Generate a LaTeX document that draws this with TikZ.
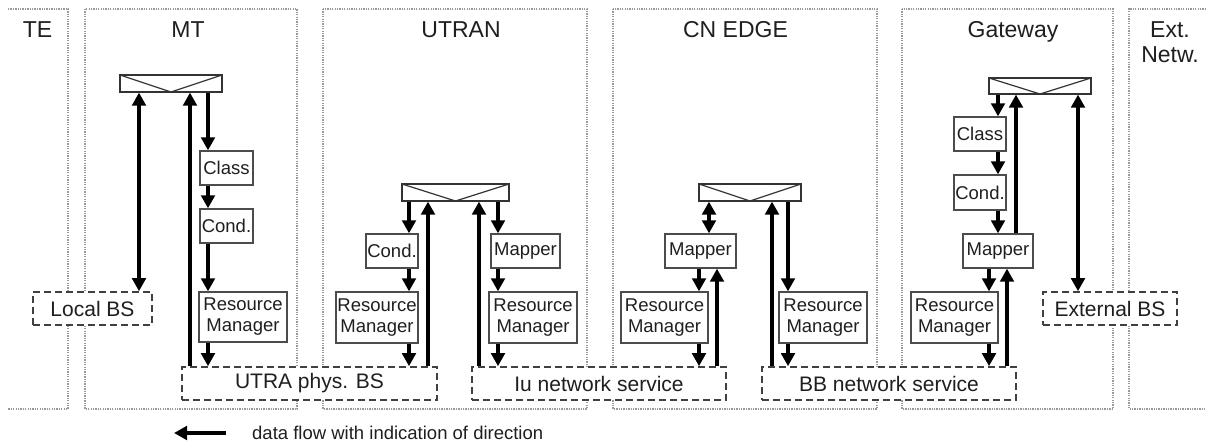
\documentclass[tikz,border=0pt]{standalone}
\usepackage{fontspec}
\setmainfont{Liberation Sans}
\usetikzlibrary{arrows.meta}
\begin{document}
\begin{tikzpicture}[x=1pt,y=-1pt,
  col/.style={draw=black!40, line width=1.3pt, dash pattern=on 1.3pt off 1.1pt},
  title/.style={anchor=base, inner sep=0pt, text=black!88, font=\fontsize{23}{26}\selectfont},
  box/.style={draw=black!70, line width=1.3pt, fill=white, inner sep=0pt, align=center,
    text=black!88, font=\fontsize{18.5}{21}\selectfont},
  dbox/.style={draw=black!75, line width=1.6pt, dash pattern=on 7pt off 4pt, fill=white,
    inner sep=0pt, text=black!88, font=\fontsize{21}{24}\selectfont},
  sw/.style={draw=black!80, line width=1.2pt, fill=white, inner sep=0pt,
    path picture={\draw[line width=1.2pt, black!80] (path picture bounding box.north west)
      -- (path picture bounding box.south) -- (path picture bounding box.north east);}},
  arr/.style={line width=4pt, -{Triangle[width=13.5pt,length=13pt]}},
  darr/.style={line width=4pt, {Triangle[width=13.5pt,length=13pt]}-{Triangle[width=13.5pt,length=13pt]}}
]
\fill[white] (0,0) rectangle (1206,446);
\useasboundingbox (0,0) rectangle (1206,446);

% columns
\draw[col] (8,9) -- (68,9) -- (68,409) -- (8,409);
\draw[col] (85,9) rectangle (297,409);
\draw[col] (323,9) rectangle (587,409);
\draw[col] (613,9) rectangle (877,409);
\draw[col] (902,9) rectangle (1113,409);
\draw[col] (1206,9) -- (1129,9) -- (1129,409) -- (1206,409);

% titles
\node[title] (tte) at (37.5,38) {TE};
\node[title] (tmt) at (188,38) {MT};
\node[title] (tutran) at (461,38) {UTRAN};
\node[title] (tcn) at (735.5,38) {CN EDGE};
\node[title] (tgw) at (1013,38) {Gateway};
\node[title] (text1) at (1170,38) {Ext.};
\node[title] (text2) at (1170,63) {Netw.};

% dashed boxes
\node[dbox, minimum width=119pt, minimum height=33pt] (localbs) at (92.5,308.5) {Local BS};
\node[dbox, minimum width=255pt, minimum height=33pt] (utra) at (309.5,383.5) {UTRA phys. BS};
\node[dbox, minimum width=254pt, minimum height=33pt] (iu) at (599,383.5) {Iu network service};
\node[dbox, minimum width=254pt, minimum height=33pt] (bb) at (889,383.5) {BB network service};
\node[dbox, minimum width=134pt, minimum height=33pt] (extbs) at (1110,308.5) {External BS};

% MT
\node[sw, minimum width=102pt, minimum height=17pt] (mtsw) at (171,83.5) {};
\node[box, minimum width=53pt, minimum height=34pt] (mtclass) at (226.5,168) {Class};
\node[box, minimum width=53pt, minimum height=34pt] (mtcond) at (226.5,226) {Cond.};
\node[box, minimum width=88pt, minimum height=50pt] (mtrm) at (243,317) {Resource\\Manager};

% UTRAN
\node[sw, minimum width=107pt, minimum height=17pt] (usw) at (455.5,192.5) {};
\node[box, minimum width=52pt, minimum height=34pt] (ucond) at (392,251) {Cond.};
\node[box, minimum width=82pt, minimum height=51pt] (urm1) at (377,317.5) {Resource\\Manager};
\node[box, minimum width=69pt, minimum height=34pt] (umap) at (525.5,251) {Mapper};
\node[box, minimum width=88pt, minimum height=51pt] (urm2) at (533,317.5) {Resource\\Manager};

% CN EDGE
\node[sw, minimum width=102pt, minimum height=17pt] (csw) at (750,192.5) {};
\node[box, minimum width=71pt, minimum height=34pt] (cmap) at (700.5,251) {Mapper};
\node[box, minimum width=87pt, minimum height=51pt] (crm1) at (664.5,317.5) {Resource\\Manager};
\node[box, minimum width=88pt, minimum height=51pt] (crm2) at (823,317.5) {Resource\\Manager};

% Gateway
\node[sw, minimum width=102pt, minimum height=16pt] (gsw) at (1040,86) {};
\node[box, minimum width=52pt, minimum height=34pt] (gclass) at (980,134) {Class};
\node[box, minimum width=52pt, minimum height=35pt] (gcond) at (980,192.5) {Cond.};
\node[box, minimum width=70pt, minimum height=34pt] (gmap) at (998,251) {Mapper};
\node[box, minimum width=87pt, minimum height=51pt] (grm) at (954.5,317.5) {Resource\\Manager};

% arrow columns
\coordinate (m1) at (139,0);
\coordinate (m2) at (190,0);
\coordinate (m3) at (208,0);
\coordinate (u1) at (409,0);
\coordinate (u2) at (428,0);
\coordinate (u3) at (479,0);
\coordinate (u4) at (498,0);
\coordinate (c1) at (699,0);
\coordinate (c2) at (709,0);
\coordinate (c3) at (717,0);
\coordinate (c4) at (772,0);
\coordinate (c5) at (788,0);
\coordinate (g1) at (989,0);
\coordinate (g2) at (998,0);
\coordinate (g3) at (1007,0);
\coordinate (g4) at (1016,0);
\coordinate (g5) at (1078,0);

% MT arrows
\draw[darr] (mtsw.south -| m1) -- (localbs.north -| m1);
\draw[arr] (utra.north -| m2) -- (mtsw.south -| m2);
\draw[arr] (mtsw.south -| m3) -- (mtclass.north -| m3);
\draw[arr] (mtclass.south -| m3) -- (mtcond.north -| m3);
\draw[arr] (mtcond.south -| m3) -- (mtrm.north -| m3);
\draw[arr] (mtrm.south -| m3) -- (utra.north -| m3);

% UTRAN arrows
\draw[arr] (usw.south -| u1) -- (ucond.north -| u1);
\draw[arr] (ucond.south -| u1) -- (urm1.north -| u1);
\draw[arr] (urm1.south -| u1) -- (utra.north -| u1);
\draw[arr] (utra.north -| u2) -- (usw.south -| u2);
\draw[arr] (iu.north -| u3) -- (usw.south -| u3);
\draw[arr] (usw.south -| u4) -- (umap.north -| u4);
\draw[arr] (umap.south -| u4) -- (urm2.north -| u4);
\draw[arr] (urm2.south -| u4) -- (iu.north -| u4);

% CN EDGE arrows
\draw[darr] (csw.south -| c2) -- (cmap.north -| c2);
\draw[arr] (cmap.south -| c1) -- (crm1.north -| c1);
\draw[arr] (crm1.south -| c1) -- (iu.north -| c1);
\draw[arr] (iu.north -| c3) -- (cmap.south -| c3);
\draw[arr] (bb.north -| c4) -- (csw.south -| c4);
\draw[arr] (csw.south -| c5) -- (crm2.north -| c5);
\draw[arr] (crm2.south -| c5) -- (bb.north -| c5);

% Gateway arrows
\draw[arr] (gsw.south -| g2) -- (gclass.north -| g2);
\draw[arr] (gclass.south -| g2) -- (gcond.north -| g2);
\draw[arr] (gcond.south -| g2) -- (gmap.north -| g2);
\draw[arr] (gmap.north -| g4) -- (gsw.south -| g4);
\draw[arr] (gmap.south -| g1) -- (grm.north -| g1);
\draw[arr] (grm.south -| g1) -- (bb.north -| g1);
\draw[arr] (bb.north -| g3) -- (gmap.south -| g3);
\draw[darr] (gsw.south -| g5) -- (extbs.north -| g5);

% legend
\coordinate (legS) at (226,433);
\coordinate (legE) at (174,433);
\draw[arr] (legS) -- (legE);
\node[anchor=west, inner sep=0pt, text=black!88, font=\fontsize{18.5}{21}\selectfont] (legtext) at (252,433) {data flow with indication of direction};
\end{tikzpicture}
\end{document}
